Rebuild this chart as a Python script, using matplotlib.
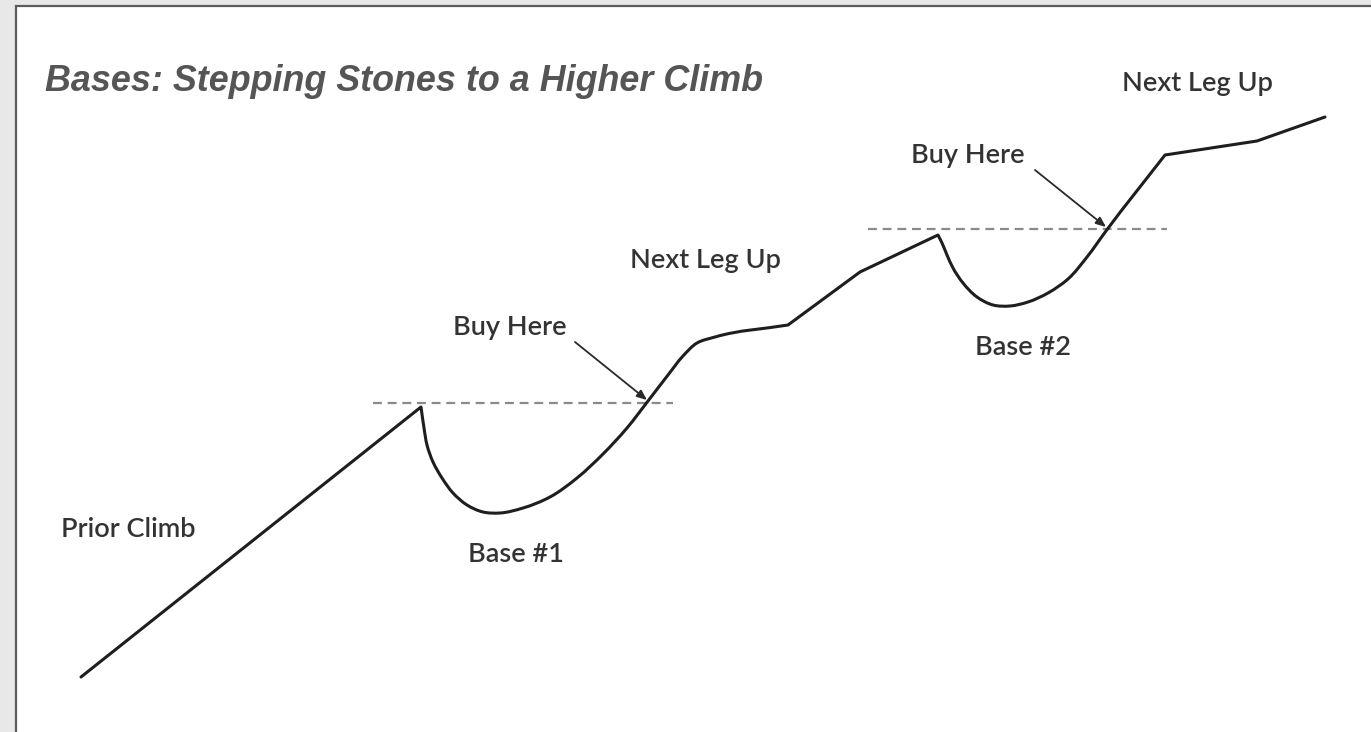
import matplotlib
matplotlib.use("Agg")
import matplotlib.pyplot as plt
import numpy as np
from matplotlib.patches import Rectangle, PathPatch
from matplotlib.path import Path

# ---- data (pixel-space price path) ----
price_x = [81, 421, 424, 427, 433, 442, 453, 467, 483, 500, 523, 550, 577,
           603, 627, 648, 668, 683, 697, 715, 788, 860, 938, 942, 947, 953,
           963, 977, 993, 1010, 1028, 1048, 1068, 1087, 1106, 1165, 1257, 1325]
price_y = [677, 407, 428, 445, 462, 478, 493, 505, 512, 513, 508, 497, 478,
           454, 428, 401, 375, 356, 343, 337, 325, 272, 235, 243, 255, 268,
           283, 297, 305, 306, 302, 293, 279, 257, 231, 155, 141, 117]

# index ranges of the path that are drawn as smooth curves (the bases)
smooth_runs = [(1, 20), (22, 35)]

pivot_levels = [403, 229]
pivot_starts = [373, 868]
pivot_ends = [673, 1167]

buy_points = [(647, 400), (1106, 227)]

title = "Bases: Stepping Stones to a Higher Climb"
labels = ["Prior Climb", "Base #1", "Buy Here", "Next Leg Up",
          "Buy Here", "Base #2", "Next Leg Up"]

# ---- layout ----
label_pos = [(128, 537), (516, 562), (510, 335), (705, 268),
             (968, 163), (1023, 355), (1197, 91)]
arrow_tails = [(575, 342), (1035, 170)]

W, H = 1371, 732
fig = plt.figure(figsize=(W / 100, H / 100), dpi=100, facecolor="#e8e8e8")
ax = fig.add_axes([0, 0, 1, 1])
ax.set_xlim(0, W)
ax.set_ylim(H, 0)
ax.axis("off")

ax.add_patch(Rectangle((16, 6), W, H + 10, facecolor="white",
                       edgecolor="#5c5c5c", lw=1.6, zorder=0))

for lvl, x0, x1 in zip(pivot_levels, pivot_starts, pivot_ends):
    ax.plot([x0, x1], [lvl, lvl], color="#8a8a8a", lw=1.6,
            dashes=(4, 2.6), zorder=1)


def smooth_segments(seg):
    """Cubic Bezier pieces (chord-length Hermite) passing through seg."""
    h = np.linalg.norm(np.diff(seg, axis=0), axis=1)
    m = np.zeros_like(seg)
    m[0] = (seg[1] - seg[0]) / h[0]
    m[-1] = (seg[-1] - seg[-2]) / h[-1]
    for k in range(1, len(seg) - 1):
        d0 = (seg[k] - seg[k - 1]) / h[k - 1]
        d1 = (seg[k + 1] - seg[k]) / h[k]
        m[k] = (d0 * h[k] + d1 * h[k - 1]) / (h[k - 1] + h[k])
    out = []
    for k in range(len(seg) - 1):
        out += [seg[k] + m[k] * h[k] / 3, seg[k + 1] - m[k + 1] * h[k] / 3,
                seg[k + 1]]
    return out


pts = np.column_stack([price_x, price_y]).astype(float)
verts = [pts[0]]
codes = [Path.MOVETO]
run_starts = {a: b for a, b in smooth_runs}
i = 0
n = len(pts)
while i < n - 1:
    if i in run_starts:
        j = run_starts[i]
        v = smooth_segments(pts[i:j + 1])
        verts += v
        codes += [Path.CURVE4] * len(v)
        i = j
    else:
        verts.append(pts[i + 1])
        codes.append(Path.LINETO)
        i += 1

ax.add_patch(PathPatch(Path(verts, codes), fill=False, edgecolor="#1e1e1e",
                       lw=2.2, joinstyle="round", capstyle="round", zorder=2))

for (tx, ty), (px, py) in zip(arrow_tails, buy_points):
    ax.annotate("", xy=(px, py), xytext=(tx, ty),
                arrowprops=dict(arrowstyle="-|>,head_length=0.6,head_width=0.25",
                                color="#2a2a2a", lw=1.3, shrinkA=0, shrinkB=0),
                zorder=3)

ax.text(45, 91, title, fontsize=25.8, fontweight="bold", fontstyle="italic",
        family="Liberation Sans", color="#555555", ha="left", va="baseline")

for txt, (x, y) in zip(labels, label_pos):
    ax.text(x, y, txt, fontsize=19.5, fontweight="semibold", family="Lato",
            color="#333333", ha="center", va="baseline")

fig.savefig("out.png", dpi=100, facecolor=fig.get_facecolor())
